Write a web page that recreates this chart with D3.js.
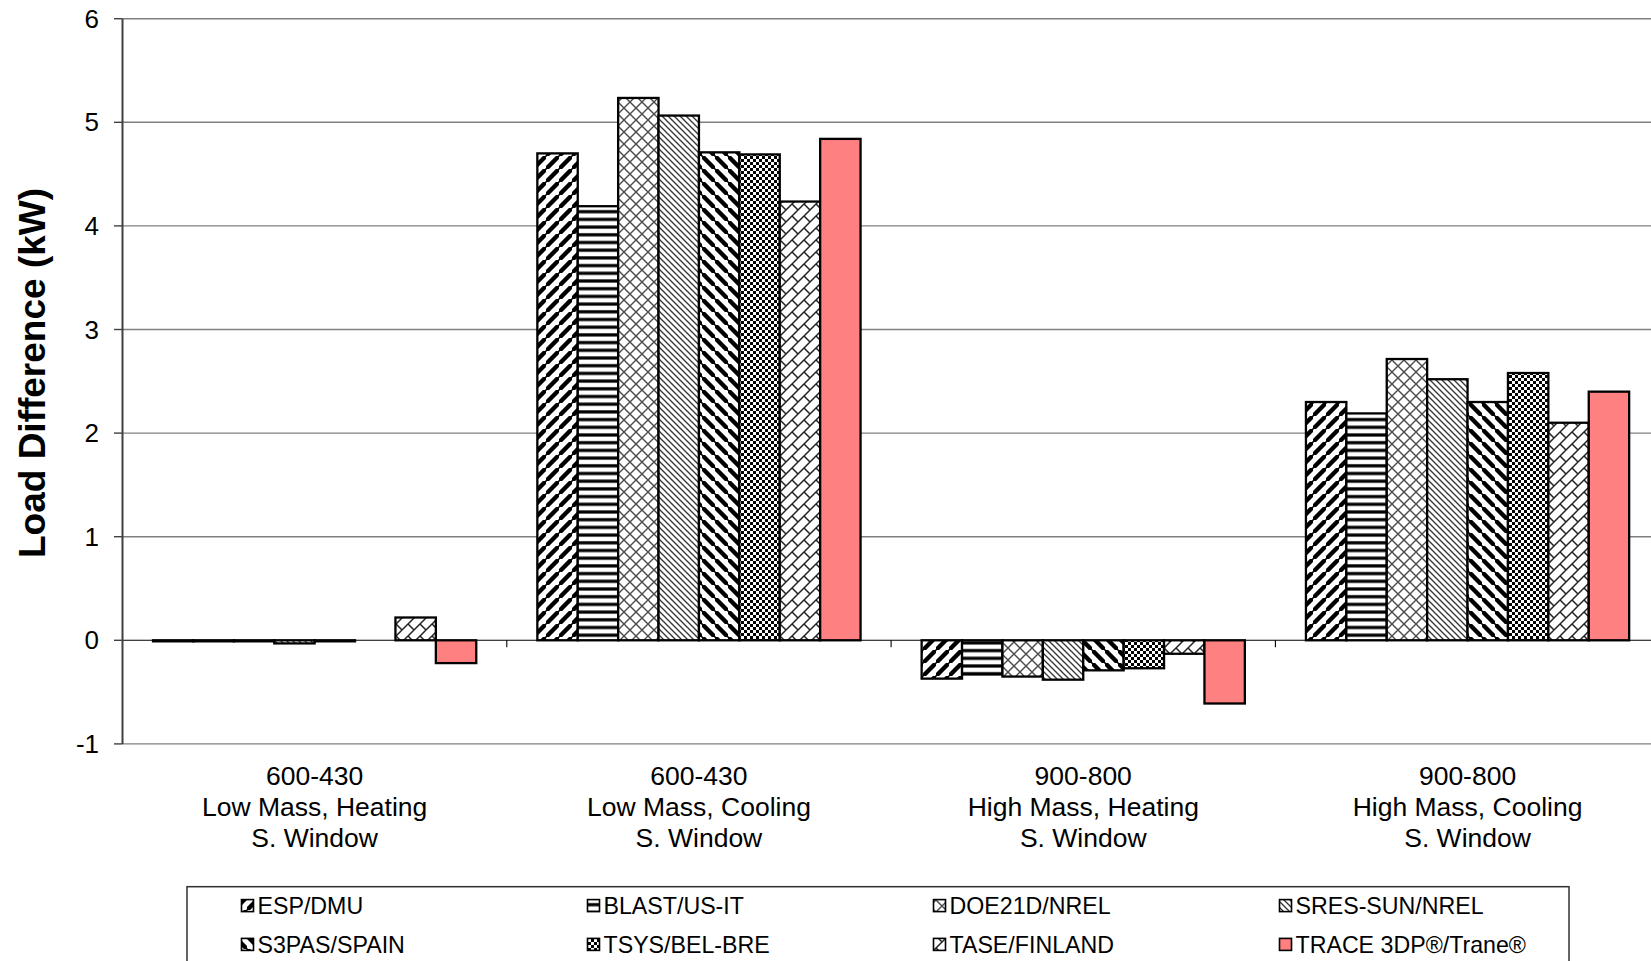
<!DOCTYPE html>
<html>
<head>
<meta charset="utf-8">
<script src="https://cdn.jsdelivr.net/npm/d3@7"></script>
<style>
  html, body { margin: 0; padding: 0; background: #fff; }
  svg { display: block; font-family: "Liberation Sans", Arial, sans-serif; }
</style>
</head>
<body>
<svg id="chart" width="1651" height="961"></svg>
<script>
// ---------- data ----------
const categories = [
  "600-430|Low Mass, Heating|S. Window",
  "600-430|Low Mass, Cooling|S. Window",
  "900-800|High Mass, Heating|S. Window",
  "900-800|High Mass, Cooling|S. Window"
];
const seriesNames = ["ESP/DMU", "BLAST/US-IT", "DOE21D/NREL", "SRES-SUN/NREL",
                     "S3PAS/SPAIN", "TSYS/BEL-BRE", "TASE/FINLAND", "TRACE 3DP®/Trane®"];
const espDmu   = [-0.01, 4.70,  -0.37, 2.30];
const blastUs  = [-0.01, 4.19,  -0.33, 2.19];
const doe21d   = [-0.01, 5.235, -0.35, 2.715];
const sresSun  = [-0.03, 5.065, -0.38, 2.52];
const s3pas    = [-0.01, 4.71,  -0.29, 2.30];
const tsys     = [ 0.00, 4.69,  -0.27, 2.58];
const tase     = [ 0.22, 4.235, -0.13, 2.10];
const trace    = [-0.22, 4.84,  -0.61, 2.40];
const seriesValues = [espDmu, blastUs, doe21d, sresSun, s3pas, tsys, tase, trace];
const yTicks = [-1, 0, 1, 2, 3, 4, 5, 6];
const yTitle = "Load Difference (kW)";

// ---------- layout ----------
const svg = d3.select("#chart");
svg.append("rect").attr("width", 1651).attr("height", 961).attr("fill", "#fff");

const plotLeft = 122.5, step = 384.3;
const x0 = d3.scaleBand().domain(categories).range([plotLeft, plotLeft + step * categories.length]).padding(0);
const x1 = d3.scaleBand().domain(seriesNames).range([0, x0.bandwidth()]).paddingInner(0).paddingOuter(0.756);
const y = d3.scaleLinear().domain([-1, 6]).range([743.9, 18.7]);

// ---------- patterns ----------
const defs = svg.append("defs");
function pat(id, w, h) {
  const p = defs.append("pattern").attr("id", id).attr("patternUnits", "userSpaceOnUse")
    .attr("width", w).attr("height", h);
  p.append("rect").attr("width", w).attr("height", h).attr("fill", "#fff");
  return p;
}
// ESP: wide upward diagonal
{ const s = 13; const p = pat("p0", s, s);
  p.append("path").attr("d", `M-2,${s+2} L${s+2},-2 M-4,2 L2,-4 M${s-2},${s+4} L${s+4},${s-2}`)
   .attr("stroke", "#000").attr("stroke-width", 4.4); }
// BLAST: dark horizontal
{ const p = pat("p1", 8, 7.7);
  p.append("rect").attr("y", 2.2).attr("width", 8).attr("height", 3.2).attr("fill", "#000"); }
// DOE21D: diamond cross
{ const s = 12; const p = pat("p2", s, s);
  p.append("path").attr("d", `M0,0 L${s},${s} M${s},0 L0,${s}`)
   .attr("stroke", "#4a4a4a").attr("stroke-width", 1.4); }
// SRES-SUN: narrow downward diagonal
{ const s = 6; const p = pat("p3", s, s);
  p.append("path").attr("d", `M-1,-1 L${s+1},${s+1} M-2,${s-2} L2,${s+2} M${s-2},-2 L${s+2},2`)
   .attr("stroke", "#333").attr("stroke-width", 1.3); }
// S3PAS: wide downward diagonal
{ const s = 13; const p = pat("p4", s, s);
  p.append("path").attr("d", `M-2,-2 L${s+2},${s+2} M-4,${s-2} L2,${s+4} M${s-2},-4 L${s+4},2`)
   .attr("stroke", "#000").attr("stroke-width", 4.4); }
// TSYS: small checker board
{ const p = pat("p5", 6, 6);
  p.append("rect").attr("width", 3).attr("height", 3).attr("fill", "#000");
  p.append("rect").attr("x", 3).attr("y", 3).attr("width", 3).attr("height", 3).attr("fill", "#000"); }
// TASE: diagonal brick
{ const s = 12; const p = pat("p6", s, s);
  p.append("path").attr("d", `M-1,${s+1} L${s+1},-1 M-2,2 L2,-2 M${s-2},${s+2} L${s+2},${s-2} M0,0 L6,6`)
   .attr("stroke", "#222").attr("stroke-width", 1.5).attr("fill", "none"); }
const fills = ["url(#p0)", "url(#p1)", "url(#p2)", "url(#p3)", "url(#p4)", "url(#p5)", "url(#p6)", "#ff8080"];

// ---------- gridlines ----------
svg.append("g").selectAll("line").data(yTicks.filter(t => t !== 0)).join("line")
  .attr("x1", plotLeft).attr("x2", 1660)
  .attr("y1", d => y(d)).attr("y2", d => y(d))
  .attr("stroke", "#808080").attr("stroke-width", 1.4);

// ---------- bars ----------
const bars = svg.append("g");
categories.forEach((c, ci) => {
  seriesNames.forEach((s, si) => {
    const v = seriesValues[si][ci];
    if (v === 0) return;
    bars.append("rect")
      .attr("x", x0(c) + x1(s))
      .attr("y", y(Math.max(0, v)))
      .attr("width", x1.bandwidth())
      .attr("height", Math.abs(y(v) - y(0)))
      .attr("fill", fills[si])
      .attr("stroke", "#000")
      .attr("stroke-width", 2.3);
  });
});

// ---------- category axis at zero ----------
const catAxis = svg.append("g");
catAxis.append("line").attr("x1", plotLeft).attr("x2", 1660)
  .attr("y1", y(0)).attr("y2", y(0)).attr("stroke", "#000").attr("stroke-width", 1.1);
catAxis.selectAll("line.tk").data(categories.slice(1)).join("line").attr("class", "tk")
  .attr("x1", d => x0(d)).attr("x2", d => x0(d))
  .attr("y1", y(0)).attr("y2", y(0) + 7)
  .attr("stroke", "#000").attr("stroke-width", 1.1);

// category labels
const catLabels = svg.append("g").attr("font-size", 26.5).attr("fill", "#000").attr("text-anchor", "middle");
categories.forEach(c => {
  const lines = c.split("|");
  const t = catLabels.append("text").attr("x", x0(c) + x0.bandwidth() / 2);
  lines.forEach((ln, i) => {
    t.append("tspan").attr("x", x0(c) + x0.bandwidth() / 2)
      .attr("y", 776 + i * 30.8)
      .attr("dy", "0.35em").text(ln);
  });
});

// ---------- value axis ----------
const yAxis = svg.append("g");
yAxis.append("line").attr("x1", plotLeft).attr("x2", plotLeft)
  .attr("y1", y(6)).attr("y2", y(-1)).attr("stroke", "#404040").attr("stroke-width", 2);
yAxis.selectAll("line.tk").data(yTicks).join("line").attr("class", "tk")
  .attr("x1", plotLeft - 8.5).attr("x2", plotLeft)
  .attr("y1", d => y(d)).attr("y2", d => y(d))
  .attr("stroke", "#404040").attr("stroke-width", 1.4);
yAxis.selectAll("text").data(yTicks).join("text")
  .attr("x", 99).attr("y", d => y(d)).attr("dy", "0.35em")
  .attr("text-anchor", "end").attr("font-size", 26).attr("fill", "#000")
  .text(d => d);

svg.append("text")
  .attr("transform", `translate(32,373) rotate(-90)`)
  .attr("text-anchor", "middle").attr("dy", "0.35em")
  .attr("font-size", 37).attr("font-weight", "bold").attr("fill", "#000")
  .text(yTitle);

// ---------- legend ----------
const legend = svg.append("g");
legend.append("rect").attr("x", 187).attr("y", 886.7).attr("width", 1569 - 187).attr("height", 100)
  .attr("fill", "#fff").attr("stroke", "#303030").attr("stroke-width", 1.5);
seriesNames.forEach((s, i) => {
  const col = i % 4, row = Math.floor(i / 4);
  const lx = 241.5 + col * 346, ly = 905.6 + row * 38.8;
  legend.append("rect").attr("x", lx).attr("y", ly - 6).attr("width", 12).attr("height", 12)
    .attr("fill", fills[i]).attr("stroke", "#000").attr("stroke-width", 1.6);
  legend.append("text").attr("x", lx + 16).attr("y", ly).attr("dy", "0.35em")
    .attr("font-size", 23.2).attr("fill", "#000").text(s);
});
</script>
</body>
</html>
